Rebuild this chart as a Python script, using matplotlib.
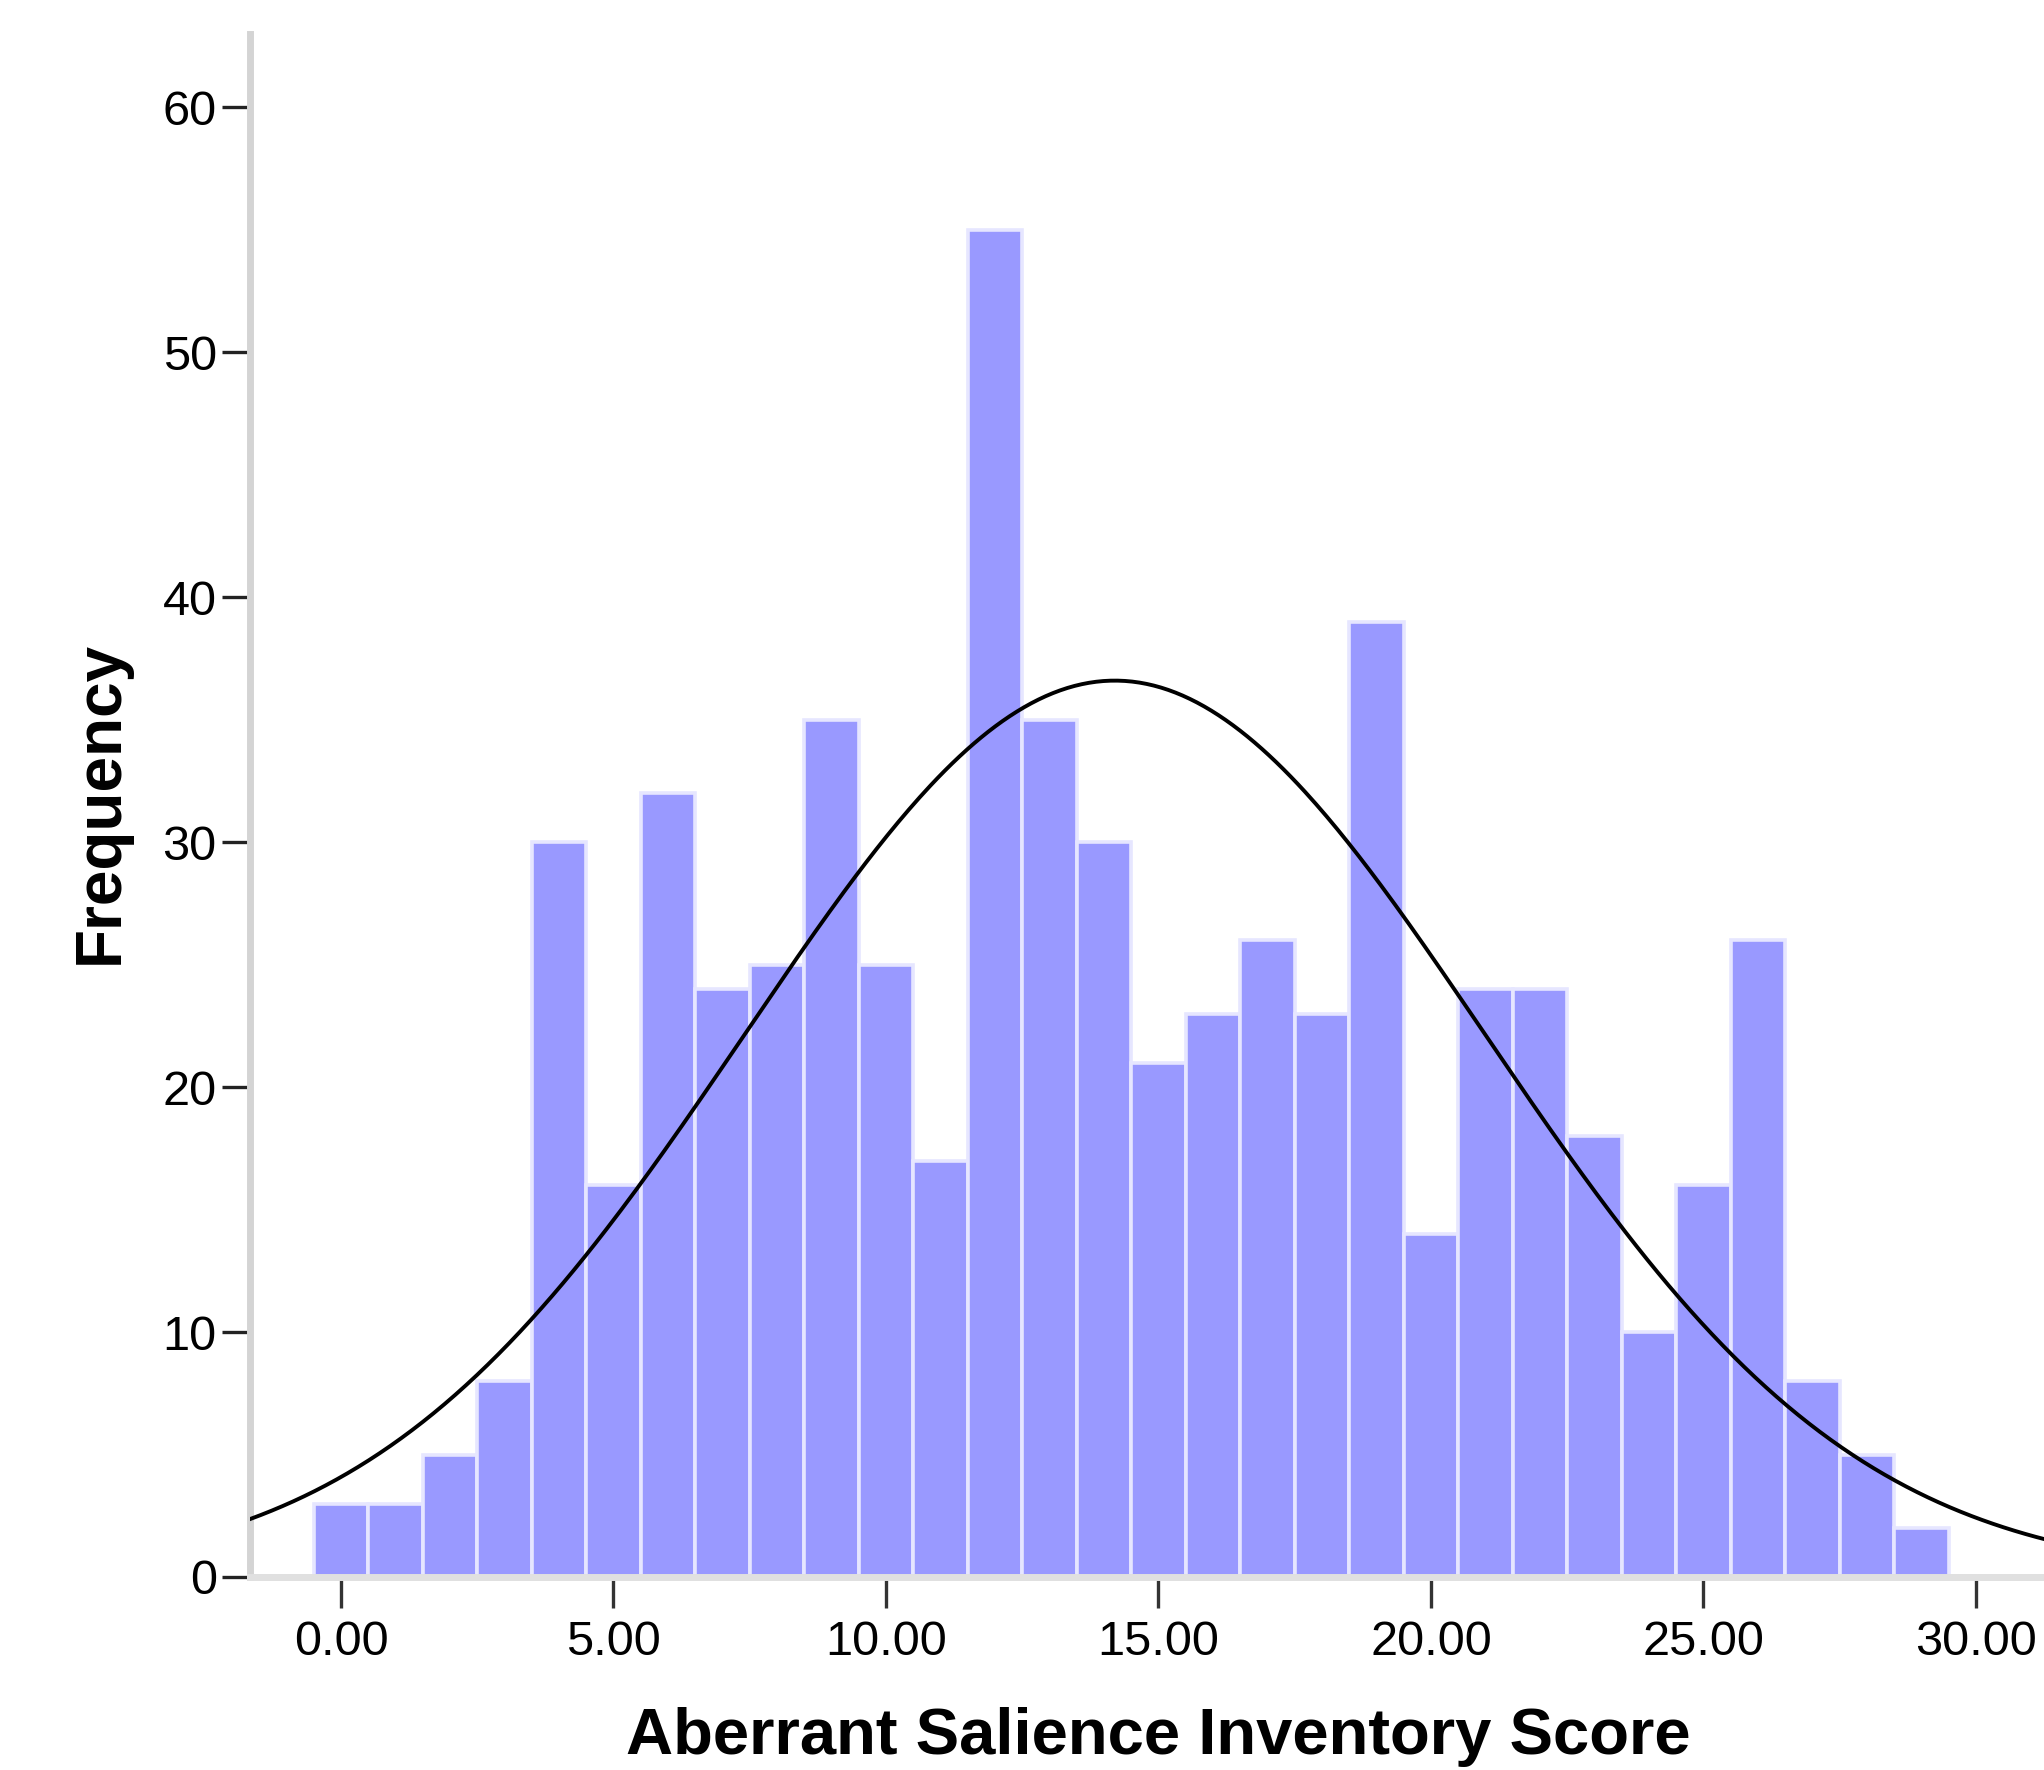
import numpy as np
import matplotlib
matplotlib.use("Agg")
import matplotlib.pyplot as plt

plt.rcParams['font.family'] = ['Liberation Sans', 'DejaVu Sans']

# Histogram bins (centre of each 1-point bin) and counts
bin_centres = list(range(0, 30))
counts = [3, 3, 5, 8, 30, 16, 32, 24, 25, 35,
          25, 17, 55, 35, 30, 21, 23, 26, 23, 39,
          14, 24, 24, 18, 10, 16, 26, 8, 5, 2]
bin_width = 1.0

# Normal curve parameters (as estimated from the plotted curve)
curve_mean = 14.2
curve_sd = 6.78
n_total = sum(counts)

x_ticks = [0, 5, 10, 15, 20, 25, 30]
y_ticks = [0, 10, 20, 30, 40, 50, 60]

W, H = 2044, 1770
fig = plt.figure(figsize=(W / 100, H / 100), dpi=100)
ax = fig.add_axes([250 / W, 1 - 1577 / H, 1 - 250 / W, (1577 - 34) / H])

ax.bar(bin_centres, counts, width=bin_width, color='#9999FF',
       edgecolor='#E6E6FF', linewidth=2.6, zorder=2)

# Fitted normal curve
xs = np.linspace(-1.67, 31.3, 500)
pdf = np.exp(-0.5 * ((xs - curve_mean) / curve_sd) ** 2) / (curve_sd * np.sqrt(2 * np.pi))
ax.plot(xs, n_total * bin_width * pdf, color='black', linewidth=2.8, zorder=3)

ax.set_xlim(-1.67, 31.25)
ax.set_ylim(0, 63)

ax.set_xticks(x_ticks)
ax.set_xticklabels([f'{v:.2f}' for v in x_ticks])
ax.set_yticks(y_ticks)

for side in ['top', 'right']:
    ax.spines[side].set_visible(False)
ax.spines['left'].set_color('#D4D4D4')
ax.spines['left'].set_linewidth(5)
ax.spines['bottom'].set_color('#E0E0E0')
ax.spines['bottom'].set_linewidth(5)

ax.tick_params(axis='x', length=22, width=2.4, color='#333333',
               labelsize=35, pad=9, direction='out')
ax.tick_params(axis='y', length=20, width=2.4, color='#222222',
               labelsize=35, pad=4, direction='out')

fig.text(101 / W, 1 - 802 / H, 'Frequency', rotation=90, ha='center',
         va='center', fontsize=46, fontweight='bold')
fig.text(1158 / W, 1 - 1754 / H, 'Aberrant Salience Inventory Score',
         ha='center', va='baseline', fontsize=47, fontweight='bold')

fig.savefig('out.png', dpi=100)
